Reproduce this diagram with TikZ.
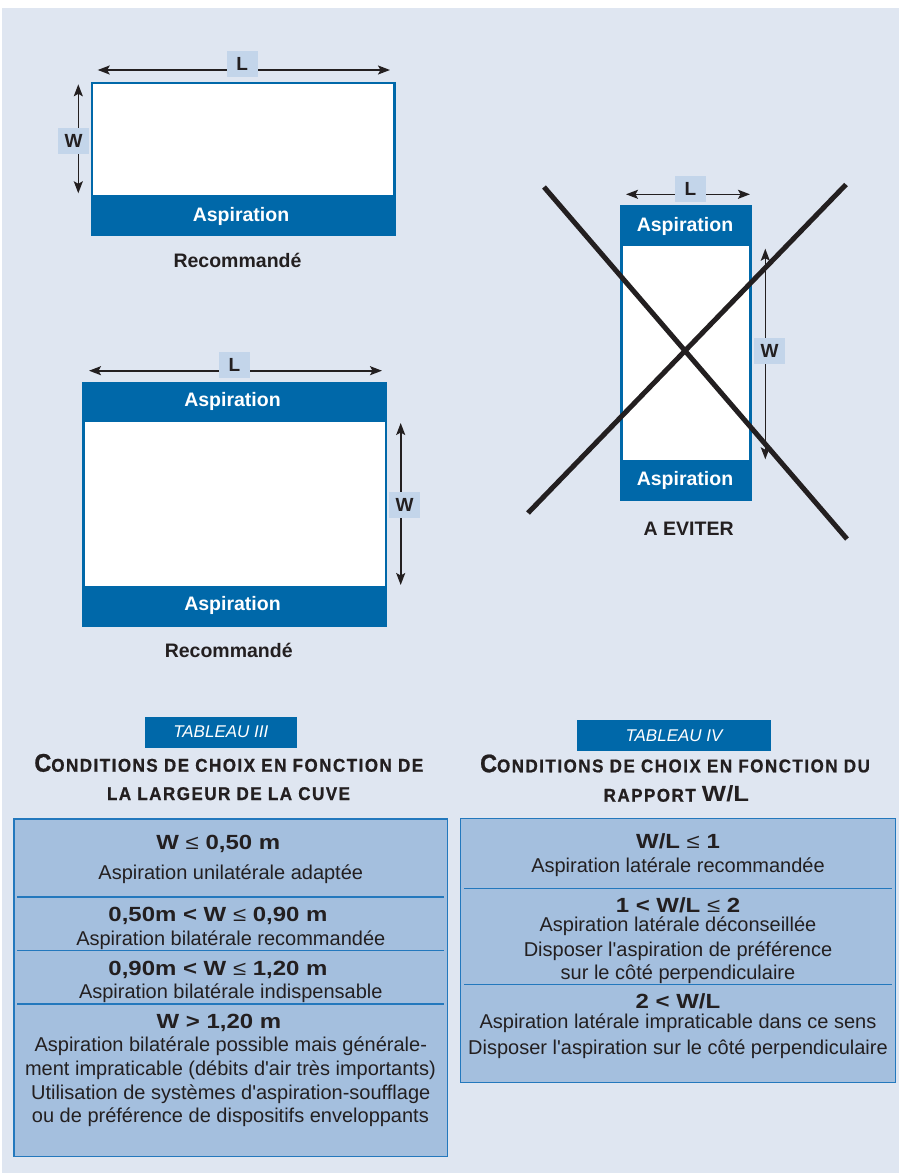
\documentclass[tikz,border=0pt]{standalone}
\usepackage{fontspec}
\usetikzlibrary{arrows.meta}
\newfontfamily\tf{Liberation Sans}
\newfontfamily\wb{Liberation Sans}[FakeStretch=1.17]
\newfontfamily\ttl{Liberation Sans}[FakeStretch=0.92, LetterSpace=8, FakeBold=0.8]
\definecolor{bg}{HTML}{DFE6F1}
\definecolor{dblue}{HTML}{0068A9}
\definecolor{lblue}{HTML}{C3D5EA}
\definecolor{tfill}{HTML}{A4BFDE}
\definecolor{tline}{HTML}{2378BD}
\definecolor{ink}{HTML}{231F20}
\tikzset{
  band/.style={fill=dblue},
  inner/.style={fill=white},
  dimline/.style={line width=1.6pt, draw=ink, {Stealth[length=12pt,width=9pt,inset=2.5pt]}-{Stealth[length=12pt,width=9pt,inset=2.5pt]}},
  lbl/.style={fill=lblue, inner sep=0pt, minimum width=31pt, minimum height=26pt, text=ink, font=\tf\bfseries\fontsize{19}{19}\selectfont},
  bandtxt/.style={anchor=base, inner sep=0pt, text=white, font=\tf\bfseries\fontsize{19.5}{19.5}\selectfont},
  captxt/.style={anchor=base, inner sep=0pt, text=ink, font=\tf\bfseries\fontsize{19.5}{19.5}\selectfont},
  cross/.style={line width=5pt, draw=ink},
  tag/.style={fill=dblue},
  tagtxt/.style={anchor=base, inner sep=0pt, text=white, font=\tf\itshape\fontsize{17}{17}\selectfont},
  title/.style={anchor=base, inner sep=0pt, text=ink, font=\ttl\bfseries\fontsize{18.5}{18.5}\selectfont},
  tbox/.style={fill=tfill, draw=tline, line width=1.5pt},
  sep/.style={draw=tline, line width=1.5pt},
  head/.style={anchor=base, inner sep=0pt, text=ink, font=\wb\bfseries\fontsize{20.5}{20.5}\selectfont},
  body/.style={anchor=base, inner sep=0pt, text=ink, font=\tf\fontsize{20}{20}\selectfont}
}
\newcommand{\bigC}[1]{{\fontsize{25.5}{25.5}\selectfont #1}}
\newcommand{\lesym}{{\mdseries ≤}}
\begin{document}
\begin{tikzpicture}[x=1pt,y=-1pt]
\useasboundingbox (0,0) rectangle (899,1173);
\fill[white] (0,0) rectangle (899,1173);
\fill[bg] (2,8) rectangle (899,1173);

% ---------- Tank 1 ----------
\fill[band] (90.5,82) rectangle (396,236);
\fill[inner] (92.7,84) rectangle (393.3,195);
\node[bandtxt] (asp1) at (241,221) {Aspiration};
\node[captxt] (rec1) at (237.5,267.7) {Recommandé};
\coordinate (l1a) at (97.7,70);
\coordinate (l1b) at (390,70);
\draw[dimline] (l1a) -- (l1b);
\node[lbl] (L1) at (242.2,63.9) {L};
\coordinate (w1a) at (78.3,84.3);
\coordinate (w1b) at (78.3,193.3);
\draw[dimline] (w1a) -- (w1b);
\node[lbl] (W1) at (73.5,141) {W};

% ---------- Tank 2 ----------
\fill[band] (82,381.7) rectangle (387.3,626.7);
\fill[inner] (84.7,422) rectangle (385,585.7);
\node[bandtxt] (asp2a) at (232.5,406.7) {Aspiration};
\node[bandtxt] (asp2b) at (232.5,610.7) {Aspiration};
\node[captxt] (rec2) at (228.7,657.3) {Recommandé};
\coordinate (l2a) at (89,370.7);
\coordinate (l2b) at (382,370.7);
\draw[dimline] (l2a) -- (l2b);
\node[lbl] (L2) at (234.5,364.8) {L};
\coordinate (w2a) at (400.7,423);
\coordinate (w2b) at (400.7,585);
\draw[dimline] (w2a) -- (w2b);
\node[lbl] (W2) at (404.5,504.8) {W};

% ---------- Tank 3 ----------
\fill[band] (620,205.3) rectangle (751.7,501);
\fill[inner] (622.7,246.3) rectangle (749.3,460);
\node[bandtxt] (asp3a) at (685,231) {Aspiration};
\node[bandtxt] (asp3b) at (685,485) {Aspiration};
\node[captxt] (evit) at (688.7,535.7) {A EVITER};
\coordinate (l3a) at (626,194.3);
\coordinate (l3b) at (750,194.3);
\draw[dimline] (l3a) -- (l3b);
\node[lbl] (L3) at (690.5,189) {L};
\coordinate (w3a) at (765.3,248.7);
\coordinate (w3b) at (765.3,459.3);
\draw[dimline] (w3a) -- (w3b);
\node[lbl] (W3) at (769.5,351.2) {W};
\coordinate (x1a) at (544,187);
\coordinate (x1b) at (847,539);
\coordinate (x2a) at (846,184.5);
\coordinate (x2b) at (528,513);
\draw[cross] (x1a) -- (x1b);
\draw[cross] (x2a) -- (x2b);

% ---------- Tableau III ----------
\fill[tag] (145,716.7) rectangle (296.7,747.7);
\node[tagtxt] (tag3) at (220.8,737.7) {TABLEAU III};
\node[title] (t3a) at (228.8,771.7) {\bigC{C}ONDITIONS DE CHOIX EN FONCTION DE};
\node[title] (t3b) at (228.5,800) {LA LARGEUR DE LA CUVE};
\draw[tbox] (14,819) rectangle (447.3,1156.7);
\draw[sep] (17.3,897) -- (444,897);
\draw[sep] (17.3,950.7) -- (444,950.7);
\draw[sep] (17.3,1004) -- (444,1004);
\node[head] (r1h) at (218.3,849.3) {W \lesym{} 0,50 m};
\node[body] (r1a) at (230.8,879) {Aspiration unilatérale adaptée};
\node[head] (r2h) at (218,921.7) {0,50m < W \lesym{} 0,90 m};
\node[body] (r2a) at (230.8,945.7) {Aspiration bilatérale recommandée};
\node[head] (r3h) at (218,975) {0,90m < W \lesym{} 1,20 m};
\node[body] (r3a) at (230.8,998.3) {Aspiration bilatérale indispensable};
\node[head] (r4h) at (219,1028.3) {W > 1,20 m};
\node[body] (r4a) at (230.8,1051.7) {Aspiration bilatérale possible mais générale-};
\node[body] (r4b) at (230.4,1075) {ment impraticable (débits d'air très importants)};
\node[body] (r4c) at (230.7,1099.3) {Utilisation de systèmes d'aspiration-soufflage};
\node[body] (r4d) at (230.4,1122.7) {ou de préférence de dispositifs enveloppants};

% ---------- Tableau IV ----------
\fill[tag] (577,720) rectangle (770.7,750.7);
\node[tagtxt] (tag4) at (674,741) {TABLEAU IV};
\node[title] (t4a) at (675,772.3) {\bigC{C}ONDITIONS DE CHOIX EN FONCTION DU};
\node[title] (t4b) at (676.4,801.7) {RAPPORT {\wb\fontsize{22}{22}\selectfont W/L}};
\draw[tbox] (460.7,818.3) rectangle (895.7,1082.7);
\draw[sep] (464,888.3) -- (891.7,888.3);
\draw[sep] (464,984.3) -- (891.7,984.3);
\node[head] (q1h) at (678,848.3) {W/L \lesym{} 1};
\node[body] (q1a) at (678,872.7) {Aspiration latérale recommandée};
\node[head] (q2h) at (678,912.3) {1 < W/L \lesym{} 2};
\node[body] (q2a) at (678,931.7) {Aspiration latérale déconseillée};
\node[body] (q2b) at (678,956) {Disposer l'aspiration de préférence};
\node[body] (q2c) at (678,979.3) {sur le côté perpendiculaire};
\node[head] (q3h) at (678,1008.3) {2 < W/L};
\node[body] (q3a) at (678,1028.3) {Aspiration latérale impraticable dans ce sens};
\node[body] (q3b) at (678,1054) {Disposer l'aspiration sur le côté perpendiculaire};
\end{tikzpicture}
\end{document}
